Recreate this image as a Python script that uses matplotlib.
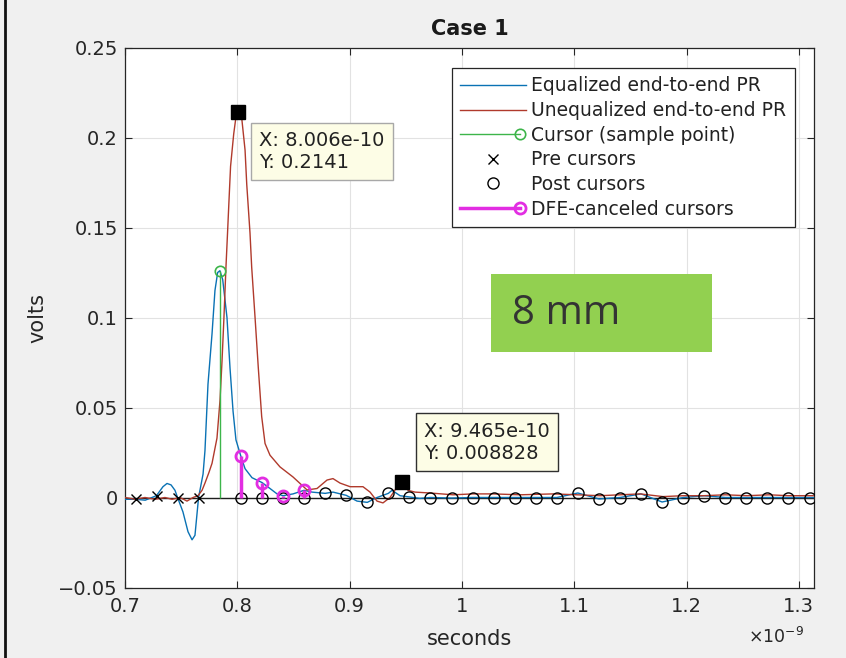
import numpy as np
import matplotlib
matplotlib.use("Agg")
import matplotlib.pyplot as plt
from matplotlib.lines import Line2D
from matplotlib.patches import Rectangle
from matplotlib.legend_handler import HandlerBase
from matplotlib.ticker import FixedLocator, FixedFormatter

plt.rcParams["font.family"] = ["DejaVu Sans"]

NS = 1e-9

# Equalized end-to-end pulse response (time in ns, volts)
eq_t_ns = [0.700, 0.7095, 0.718, 0.728, 0.7338, 0.7374, 0.741, 0.7445, 0.7468, 0.7516,
           0.7561, 0.7597, 0.7623, 0.7655, 0.7695, 0.7712, 0.7739, 0.7775, 0.7801, 0.7825,
           0.7845, 0.787, 0.7908, 0.7935, 0.7962, 0.7988, 0.80325, 0.8069, 0.8131, 0.822,
           0.8291, 0.8354, 0.84075, 0.8496, 0.8595, 0.8665, 0.87825, 0.8852, 0.897, 0.9066,
           0.91575, 0.9244, 0.9345, 0.9378, 0.9449, 0.95325, 0.9625, 0.972, 0.99075, 1.0095,
           1.02825, 1.047, 1.06575, 1.0845, 1.10325, 1.122, 1.14075, 1.1595, 1.17825, 1.197,
           1.21575, 1.2345, 1.25325, 1.272, 1.29075, 1.3095, 1.3135]
eq_v = [-0.001, -0.001, -0.0015, 0.001, 0.006, 0.0078, 0.007, 0.004, 0.0, -0.008,
        -0.019, -0.0235, -0.021, 0.0, 0.013, 0.026, 0.063, 0.091, 0.115, 0.125,
        0.126, 0.121, 0.1, 0.072, 0.048, 0.032, 0.0228, 0.016, 0.011, 0.0083,
        0.005, 0.002, 0.001, 0.002, 0.004, 0.003, 0.0023, 0.003, 0.0012, -0.002,
        -0.0027, 0.0, 0.0023, 0.004, 0.001, 0.0003, -0.0005, 0.0, -0.0003, 0.0,
        0.0, 0.0, 0.0, 0.0, 0.0025, -0.0008, 0.0, 0.002, -0.0025, 0.0,
        0.001, 0.0, 0.0, 0.0, 0.0, 0.0, 0.0]

# Unequalized end-to-end pulse response (time in ns, volts)
uneq_t_ns = [0.700, 0.7089, 0.7178, 0.7267, 0.7356, 0.7419, 0.749, 0.7552, 0.7606, 0.765,
             0.7686, 0.7712, 0.7748, 0.7775, 0.7819, 0.7846, 0.7864, 0.7881, 0.7899, 0.7913,
             0.7926, 0.794, 0.7968, 0.7985, 0.8006, 0.8039, 0.8069, 0.8084, 0.8113, 0.8128,
             0.8158, 0.8187, 0.8217, 0.8247, 0.8291, 0.838, 0.8496, 0.8621, 0.871, 0.8799,
             0.8852, 0.8915, 0.9004, 0.9119, 0.9182, 0.9244, 0.9297, 0.936, 0.9413, 0.9465,
             0.952, 0.9582, 0.9716, 0.9921, 1.0099, 1.0277, 1.0517, 1.0811, 1.1025, 1.123,
             1.1408, 1.1586, 1.1791, 1.1969, 1.2156, 1.2343, 1.2539, 1.2735, 1.2904, 1.3091,
             1.3135]
uneq_v = [0.0, -0.001, 0.0, -0.001, 0.0, -0.001, 0.0, -0.002, 0.0, 0.001,
          0.004, 0.008, 0.014, 0.019, 0.033, 0.054, 0.076, 0.1, 0.128, 0.147,
          0.165, 0.184, 0.202, 0.21, 0.2141, 0.211, 0.193, 0.174, 0.147, 0.128,
          0.1, 0.072, 0.045, 0.03, 0.0235, 0.017, 0.0114, 0.0042, 0.005, 0.0097,
          0.0105, 0.008, 0.006, 0.006, 0.003, -0.002, -0.003, 0.0, 0.005, 0.008828,
          0.004, 0.003, 0.0025, 0.0015, 0.002, 0.002, 0.0015, 0.002, 0.0015, 0.001,
          0.0015, 0.002, 0.0005, 0.001, 0.001, 0.0015, 0.001, 0.0015, 0.001, 0.001,
          0.001]

# Sampling: main cursor time, unit interval, cursor amplitudes
cursor_t_ns = 0.7845
ui_ns = 0.01875
cursor_v = 0.126
pre_v = [-0.001, 0.001, 0.0, 0.0]
post_v = [0.0, 0.0, 0.0, 0.0, 0.0023, 0.0012, -0.0027, 0.0023, 0.0003, 0.0,
          -0.0003, 0.0, 0.0, 0.0, 0.0, 0.0, 0.0025, -0.0008, 0.0, 0.002,
          -0.0025, 0.0, 0.001, 0.0, 0.0, 0.0, 0.0, 0.0]
dfe_v = [0.0228, 0.0083, 0.001, 0.004]

# Data tips
tip_t = [8.006e-10, 9.465e-10]
tip_v = [0.2141, 0.008828]

x_ticks_ns = [0.7, 0.8, 0.9, 1.0, 1.1, 1.2, 1.3]
x_tick_labels = ["0.7", "0.8", "0.9", "1", "1.1", "1.2", "1.3"]
y_ticks = [-0.05, 0.0, 0.05, 0.1, 0.15, 0.2, 0.25]
y_tick_labels = ["\u22120.05", "0", "0.05", "0.1", "0.15", "0.2", "0.25"]

legend_labels = ["Equalized end-to-end PR", "Unequalized end-to-end PR",
                 "Cursor (sample point)", "Pre cursors", "Post cursors",
                 "DFE-canceled cursors"]

BLUE = "#0a72b4"
RED = "#b03a2c"
GREEN = "#3db54a"
MAGENTA = "#e22ee2"
INK = "#262626"

eq_t = np.array(eq_t_ns) * NS
uneq_t = np.array(uneq_t_ns) * NS
t0 = cursor_t_ns * NS
ui = ui_ns * NS
pre_t = t0 - ui * np.arange(len(pre_v), 0, -1)
post_t = t0 + ui * np.arange(1, len(post_v) + 1)
dfe_t = post_t[:len(dfe_v)]

fig = plt.figure(figsize=(8.46, 6.58), dpi=100, facecolor="#f0f0f0")
ax = fig.add_axes([125 / 846, 1 - 587.5 / 658, 689 / 846, 540 / 658])
ax.set_facecolor("white")

ax.set_xlim(0.7 * NS, 1.3135 * NS)
ax.set_ylim(-0.05, 0.25)
ax.xaxis.set_major_locator(FixedLocator(np.array(x_ticks_ns) * NS))
ax.xaxis.set_major_formatter(FixedFormatter(x_tick_labels))
ax.yaxis.set_major_locator(FixedLocator(y_ticks))
ax.yaxis.set_major_formatter(FixedFormatter(y_tick_labels))
ax.tick_params(direction="in", top=True, right=True, length=5, width=0.8,
               labelsize=14, colors=INK)
ax.tick_params(axis="x", pad=7)
ax.tick_params(axis="y", pad=5)
ax.grid(True, color="#e2e2e2", lw=0.8)
ax.set_axisbelow(True)
for s in ax.spines.values():
    s.set_color(INK)
    s.set_linewidth(0.9)

# stem baseline
ax.axhline(0, color="#1e1e1e", lw=1.0, zorder=2)

h_eq, = ax.plot(eq_t, eq_v, color=BLUE, lw=1.0, zorder=3)
h_uneq, = ax.plot(uneq_t, uneq_v, color=RED, lw=1.0, zorder=3)

ax.vlines([t0], 0, [cursor_v], color=GREEN, lw=1.0, zorder=4)
ax.plot([t0], [cursor_v], ls="none", marker="o", ms=7.5, mfc="none",
        mec=GREEN, mew=1.2, zorder=4)

h_pre, = ax.plot(pre_t, pre_v, ls="none", marker="x", ms=7, mew=1.0,
                 color="black", zorder=5)
h_post, = ax.plot(post_t, post_v, ls="none", marker="o", ms=8, mfc="none",
                  mec="black", mew=1.0, zorder=5)

ax.vlines(dfe_t, 0, dfe_v, color=MAGENTA, lw=2.5, zorder=6)
ax.plot(dfe_t, dfe_v, ls="none", marker="o", ms=8, mfc="none", mec=MAGENTA,
        mew=2.0, zorder=6)

# data tips
ax.plot(tip_t, tip_v, ls="none", marker="s", ms=9.5, color="black", zorder=8)
tip_styles = [((21, -19), "top", "#a8a8a8"), ((22, 19), "bottom", "#303030")]
for (tx, ty), (offset, va, edge) in zip(zip(tip_t, tip_v), tip_styles):
    ax.annotate(f"X: {tx:.4g}\nY: {ty:.4g}", xy=(tx, ty), xytext=offset,
                textcoords="offset pixels", ha="left", va=va, fontsize=14,
                color="#222222", linespacing=1.2, zorder=9,
                bbox=dict(boxstyle="square,pad=0.42", fc="#fdfde6", ec=edge, lw=1.0))

ax.set_title("Case 1", fontsize=15, fontweight="bold", color="#1a1a1a", pad=9)
ax.set_xlabel("seconds", fontsize=15, color=INK, labelpad=9)
ax.set_ylabel("volts", fontsize=15, color=INK, labelpad=8)
ax.text(0.985, -0.092, "\u00d710$^{-9}$", transform=ax.transAxes, ha="right",
        va="center", fontsize=12.5, color=INK)


class StemLegendHandler(HandlerBase):
    def create_artists(self, legend, orig_handle, xdescent, ydescent, width,
                       height, fontsize, trans):
        y = height / 2 - ydescent
        x0, x1 = -xdescent, width - xdescent
        r = 0.3 * fontsize
        stem = Line2D([x0, x1 - r], [y, y], color=orig_handle.get_color(),
                      lw=orig_handle.get_linewidth())
        head = Line2D([x1 - r], [y], ls="none", marker="o",
                      ms=orig_handle.get_markersize(), mfc="none",
                      mec=orig_handle.get_markeredgecolor(),
                      mew=orig_handle.get_markeredgewidth())
        stem.set_transform(trans)
        head.set_transform(trans)
        return [stem, head]


h_cursor = Line2D([], [], color=GREEN, lw=1.0, marker="o", ms=7.5, mfc="none",
                  mec=GREEN, mew=1.2)
h_dfe = Line2D([], [], color=MAGENTA, lw=2.5, marker="o", ms=8, mfc="none",
               mec=MAGENTA, mew=2.0)

leg = ax.legend([h_eq, h_uneq, h_cursor, h_pre, h_post, h_dfe], legend_labels,
                handler_map={h_cursor: StemLegendHandler(), h_dfe: StemLegendHandler()},
                loc="upper right", bbox_to_anchor=(0.9724, 0.962), borderaxespad=0,
                fontsize=13.5, numpoints=1, handlelength=3.5, handletextpad=0.3,
                labelspacing=0.3, borderpad=0.45, fancybox=False, framealpha=1,
                edgecolor=INK)
leg.get_frame().set_linewidth(0.9)
leg.set_zorder(10)
for txt in leg.get_texts():
    txt.set_color("#222222")

# channel length tag
ax.add_patch(Rectangle((0.531, 0.436), 0.3208, 0.1444, transform=ax.transAxes,
                       fc="#92d050", ec="none", zorder=7))
ax.text(0.5617, 0.507, "8 mm", transform=ax.transAxes, ha="left", va="center",
        fontsize=29, color="#333333", family=["Open Sans", "DejaVu Sans"], zorder=8)

# window edge on the left
fig.add_artist(Line2D([5 / 846, 5 / 846], [0, 1], transform=fig.transFigure,
                      color="#111111", lw=2))

fig.savefig("out.png", dpi=100, facecolor=fig.get_facecolor())
